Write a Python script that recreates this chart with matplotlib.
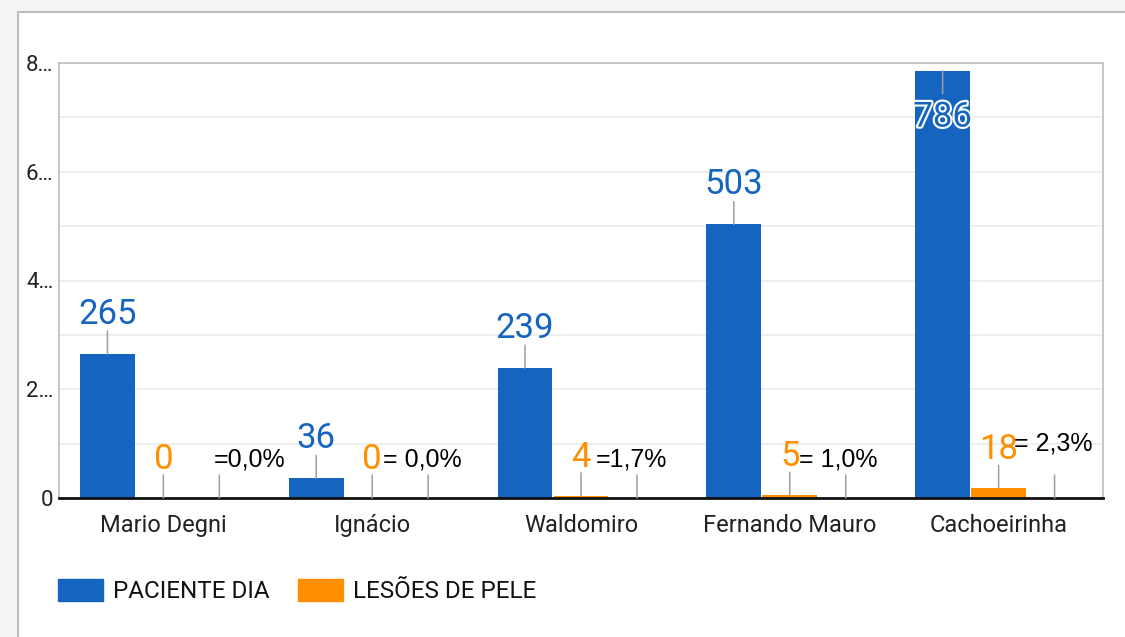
import matplotlib.pyplot as plt
import matplotlib.patches as mpatches
import matplotlib.patheffects as pe
import numpy as np

plt.rcParams['font.family'] = ['Roboto', 'DejaVu Sans']

unidades = ['Mario Degni', 'Ignácio', 'Waldomiro', 'Fernando Mauro', 'Cachoeirinha']
paciente_dia = [265, 36, 239, 503, 786]
lesoes_pele = [0, 0, 4, 5, 18]
percentuais = ['=0,0%', '= 0,0%', '=1,7%', '= 1,0%', '= 2,3%']
y_ticks = [0, 200, 400, 600, 800]
y_tick_labels = ['0', '2…', '4…', '6…', '8…']

azul = '#1565c0'
laranja = '#ff8f00'
cinza = '#9e9e9e'
PX = 0.72  # pontos por pixel (100 dpi)

# ajustes de posicao dos rotulos de percentual (pixels)
pct_dx = [30, -6, -6, -8, -1]
pct_dy = [31, 31, 31, 31, 47]

fig = plt.figure(figsize=(11.25, 6.37), dpi=100, facecolor='#f5f5f5')
fig.patches.append(mpatches.Rectangle((18 / 1125, -0.1), 1.2, 1 - 12 / 637 + 0.1,
                                      transform=fig.transFigure, facecolor='white',
                                      edgecolor='#bdbdbd', lw=1.5, zorder=-5))

ax = fig.add_axes([59 / 1125, 139 / 637, 1044 / 1125, 435 / 637])
ax.set_facecolor('white')

x = np.arange(len(unidades))
w = 0.268
bw = 0.262
ax.bar(x - w, paciente_dia, width=bw, color=azul, zorder=2)
ax.bar(x, lesoes_pele, width=bw, color=laranja, zorder=2)


def rotulo(xp, yp, texto, cor, tam, dx=0, dy=30, linha=23, contorno=False, fonte=None):
    ax.annotate('', xy=(xp, yp), xytext=(0, linha * PX), textcoords='offset points',
                arrowprops=dict(arrowstyle='-', color=cinza, lw=1.1, shrinkA=0, shrinkB=0),
                annotation_clip=False, zorder=3)
    t = ax.annotate(texto, xy=(xp, yp), xytext=(dx * PX, dy * PX), textcoords='offset points',
                    ha='center', va='baseline', color=cor, fontsize=tam,
                    annotation_clip=False, zorder=4)
    if fonte:
        t.set_family(fonte)
    if contorno:
        t.set_path_effects([pe.withStroke(linewidth=3, foreground='white')])


for i in range(len(unidades)):
    if paciente_dia[i] > 700:
        rotulo(x[i] - w, paciente_dia[i], str(paciente_dia[i]), azul, 25,
               dy=-56, linha=-23, contorno=True)
    else:
        rotulo(x[i] - w, paciente_dia[i], str(paciente_dia[i]), azul, 25)
    rotulo(x[i], lesoes_pele[i], str(lesoes_pele[i]), laranja, 25, dy=29)
    rotulo(x[i] + w, 0, percentuais[i], '#000000', 18, dx=pct_dx[i], dy=pct_dy[i],
           fonte=['Liberation Sans', 'DejaVu Sans'])

ax.set_xlim(-0.5, len(unidades) - 0.5)
ax.set_ylim(0, 800)
ax.set_yticks(y_ticks)
ax.set_yticklabels(y_tick_labels)
ax.set_yticks(np.arange(100, 800, 200), minor=True)
ax.set_xticks(x)
ax.set_xticklabels(unidades)
ax.tick_params(axis='both', which='both', length=0, labelcolor='#222222')
ax.tick_params(axis='x', pad=11.5, labelsize=17)
ax.tick_params(axis='y', pad=4, labelsize=16)
ax.grid(True, axis='y', which='both', color='#ebebeb', lw=1.2, zorder=0)
ax.set_axisbelow(True)

for lado in ['left', 'top', 'right']:
    ax.spines[lado].set_color('#bdbdbd')
    ax.spines[lado].set_linewidth(1.2)
ax.spines['bottom'].set_color('#111111')
ax.spines['bottom'].set_linewidth(2)

handles = [mpatches.Patch(color=azul, label='PACIENTE DIA'),
           mpatches.Patch(color=laranja, label='LESÕES DE PELE')]
fig.legend(handles=handles, loc='center left', bbox_to_anchor=(58 / 1125, 1 - 591 / 637),
           ncol=2, frameon=False, fontsize=17.5, handlelength=1.85, handleheight=1.0,
           handletextpad=0.42, columnspacing=1.15, borderpad=0, borderaxespad=0,
           labelcolor='#111111')

plt.savefig('out.png', dpi=100, facecolor=fig.get_facecolor())
